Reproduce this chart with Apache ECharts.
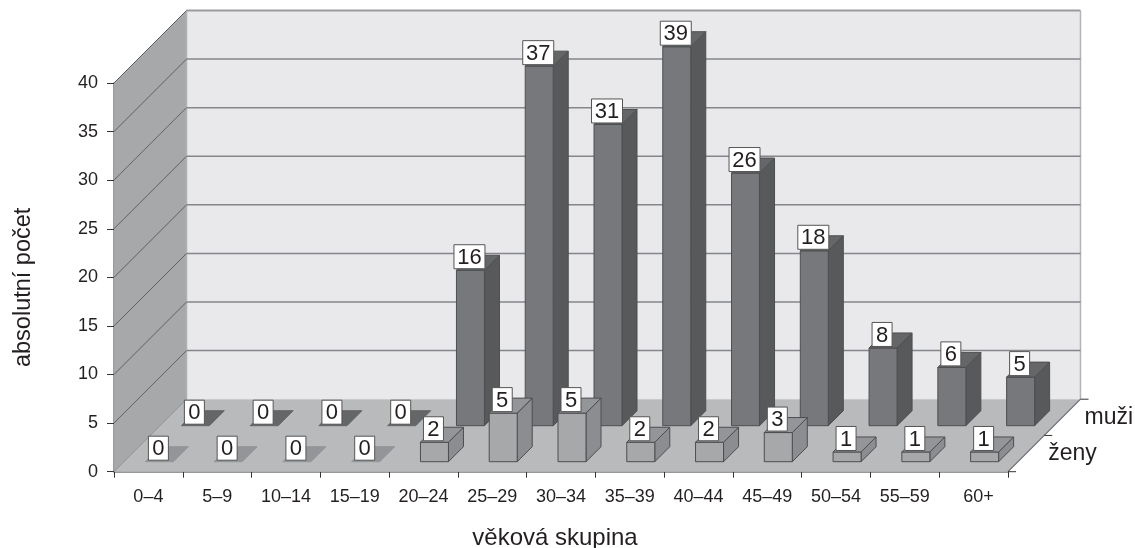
<!DOCTYPE html>
<html><head><meta charset="utf-8">
<style>html,body{margin:0;padding:0;background:#fff}#c{width:1135px;height:548px}</style>
<script src="https://cdn.jsdelivr.net/npm/echarts@6/dist/echarts.min.js"></script>
</head><body><div id="c"></div>
<script>
const categories = ['0–4','5–9','10–14','15–19','20–24','25–29','30–34','35–39','40–44','45–49','50–54','55–59','60+'];
const zeny = [0,0,0,0,2,5,5,2,2,3,1,1,1];
const muzi = [0,0,0,0,16,37,31,39,26,18,8,6,5];
const yTicks = [5,10,15,20,25,30,35,40];
const depthLabels = ['ženy','muži'];

const FONT = '"Liberation Sans", Arial, sans-serif';
const DEPTH = 72.5, BAR_W = 28, BAR_D = 15;
const wallCol = '#e9e9eb', floorCol = '#b9babc', sideCol = '#a7a8aa', lineCol = '#85868a';

function poly(points, fill, stroke, w) {
  return {type:'polygon', shape:{points}, style:{fill, stroke: stroke || 'none', lineWidth: w || 0}};
}
function line(a, b, stroke, w) {
  return {type:'line', shape:{x1:a[0],y1:a[1],x2:b[0],y2:b[1]}, style:{stroke, lineWidth:w}};
}
function sceneItem(params, api) {
  const band = api.size([1,0])[0];
  const o = api.coord([0,0]), t = api.coord([0,40]);
  const L = o[0]-band/2, R = L + band*categories.length, B = o[1], T = t[1], d = DEPTH;
  const kids = [
    poly([[L+d,T-d],[R+d,T-d],[R+d,B-d],[L+d,B-d]], wallCol),
    poly([[L,T],[L+d,T-d],[L+d,B-d],[L,B]], sideCol),
    poly([[L,B],[L+d,B-d],[R+d,B-d],[R,B]], floorCol),
    line([L+d,T-d],[R+d,T-d],'#9a9b9e',2),
    line([L+d,T-d],[L+d,B-d],'#b0b1b3',1.5),
    line([R+d,T-d],[R+d,B-d],'#b4b5b7',1.5),
    line([L,B],[L+d,B-d],'#8e8f92',1),
    line([R,B],[R+d,B-d],'#6d6e71',1.2)
  ];
  yTicks.forEach(v => {
    const y = api.coord([0,v])[1];
    kids.push(line([L,y],[L+d,y-d],'#5f6062',1));
    if (v < 40) kids.push(line([L+d,y-d],[R+d,y-d],lineCol,1.5));
  });
  [0,0.5,1].forEach(f => {
    const x = R+d*f, y = B-d*f;
    kids.push(line([x,y],[x+8,y],'#333',1));
  });
  depthLabels.forEach((s,i) => {
    const f = (i+1)/depthLabels.length;
    kids.push({type:'text', style:{text:s, x:R+d*f+4, y:B-d*f+18.5, fill:'#231f20',
      font:'23px '+FONT, textVerticalAlign:'middle', textAlign:'left'}});
  });
  return {type:'group', children:kids};
}
function barItem(cols, dx, dy) {
  return function(params, api) {
    const i = api.value(0), v = api.value(1);
    const top = api.coord([i,v]), base = api.coord([i,0]);
    const x0 = top[0]+dx-BAR_W/2, x1 = x0+BAR_W;
    const yt = top[1]+dy, yb = base[1]+dy, D = BAR_D, e = '#4d4e50';
    const kids = [];
    if (v > 0) {
      kids.push(poly([[x1,yt],[x1+D,yt-D],[x1+D,yb-D],[x1,yb]], cols.side, e, 1));
      kids.push(poly([[x0,yt],[x1,yt],[x1,yb],[x0,yb]], cols.front, e, 1));
    }
    kids.push(poly([[x0,yt],[x1,yt],[x1+D,yt-D],[x0+D,yt-D]], cols.top, v>0?e:cols.top, 1));
    const label = String(v), bw = label.length>1 ? 31 : 20, bh = 24;
    const bx = (x0+x1)/2-bw/2-1, by = yt-bh-(v>0?1.5:1.5);
    kids.push({type:'rect', shape:{x:bx,y:by,width:bw,height:bh}, style:{fill:'#fff',stroke:'#555',lineWidth:1}});
    kids.push({type:'text', style:{text:label,x:bx+bw/2,y:by+bh/2+1,textAlign:'center',textVerticalAlign:'middle',
      font:'22px '+FONT,fill:'#231f20'}});
    return {type:'group', children:kids};
  };
}
const chart = echarts.init(document.getElementById('c'), null, {renderer:'canvas'});
chart.setOption({
  animation:false,
  backgroundColor:'#fff',
  grid:{left:114, top:83, width:894, height:388.7, outerBoundsMode:'none', containLabel:false},
  xAxis:{type:'category', data:categories, boundaryGap:true,
    axisLine:{show:true, lineStyle:{color:'#77787b', width:1.5}},
    axisTick:{show:true, alignWithLabel:false, length:6, lineStyle:{color:'#333'}},
    axisLabel:{interval:0, margin:16, color:'#231f20', fontFamily:'Liberation Sans', fontSize:18,
      formatter:(s)=> s==='60+' ? '{p|'+s+'}' : s,
      rich:{p:{padding:[0,0,0,10], color:'#231f20', fontFamily:'Liberation Sans', fontSize:18}}},
    name:'věková skupina', nameLocation:'middle', nameGap:55,
    nameTextStyle:{color:'#231f20', fontFamily:'Liberation Sans', fontSize:24, padding:[0,12,0,0]}},
  yAxis:{type:'value', min:0, max:40, interval:5,
    axisLine:{show:true, lineStyle:{color:'#77787b', width:1.5}},
    axisTick:{show:true, length:7, lineStyle:{color:'#333'}},
    splitLine:{show:false},
    axisLabel:{margin:16, color:'#231f20', fontFamily:'Liberation Sans', fontSize:18, padding:[3,0,0,0]},
    name:'absolutní počet', nameLocation:'middle', nameGap:78, nameRotate:90,
    nameTextStyle:{color:'#231f20', fontFamily:'Liberation Sans', fontSize:23.5, padding:[0,20,0,0]}},
  series:[
    {type:'custom', name:'scene', coordinateSystem:'cartesian2d', z:1, clip:false, silent:true, data:[[0,0]], renderItem:sceneItem},
    {type:'custom', name:'muži', coordinateSystem:'cartesian2d', z:2, clip:false,
      data:muzi.map((v,i)=>[i,v]), encode:{x:0,y:1},
      renderItem:barItem({front:'#77787b',side:'#58595b',top:'#656668'},47,-46)},
    {type:'custom', name:'ženy', coordinateSystem:'cartesian2d', z:3, clip:false,
      data:zeny.map((v,i)=>[i,v]), encode:{x:0,y:1},
      renderItem:barItem({front:'#a7a8aa',side:'#8c8d90',top:'#939598'},11,-10)}
  ]
});
</script></body></html>
